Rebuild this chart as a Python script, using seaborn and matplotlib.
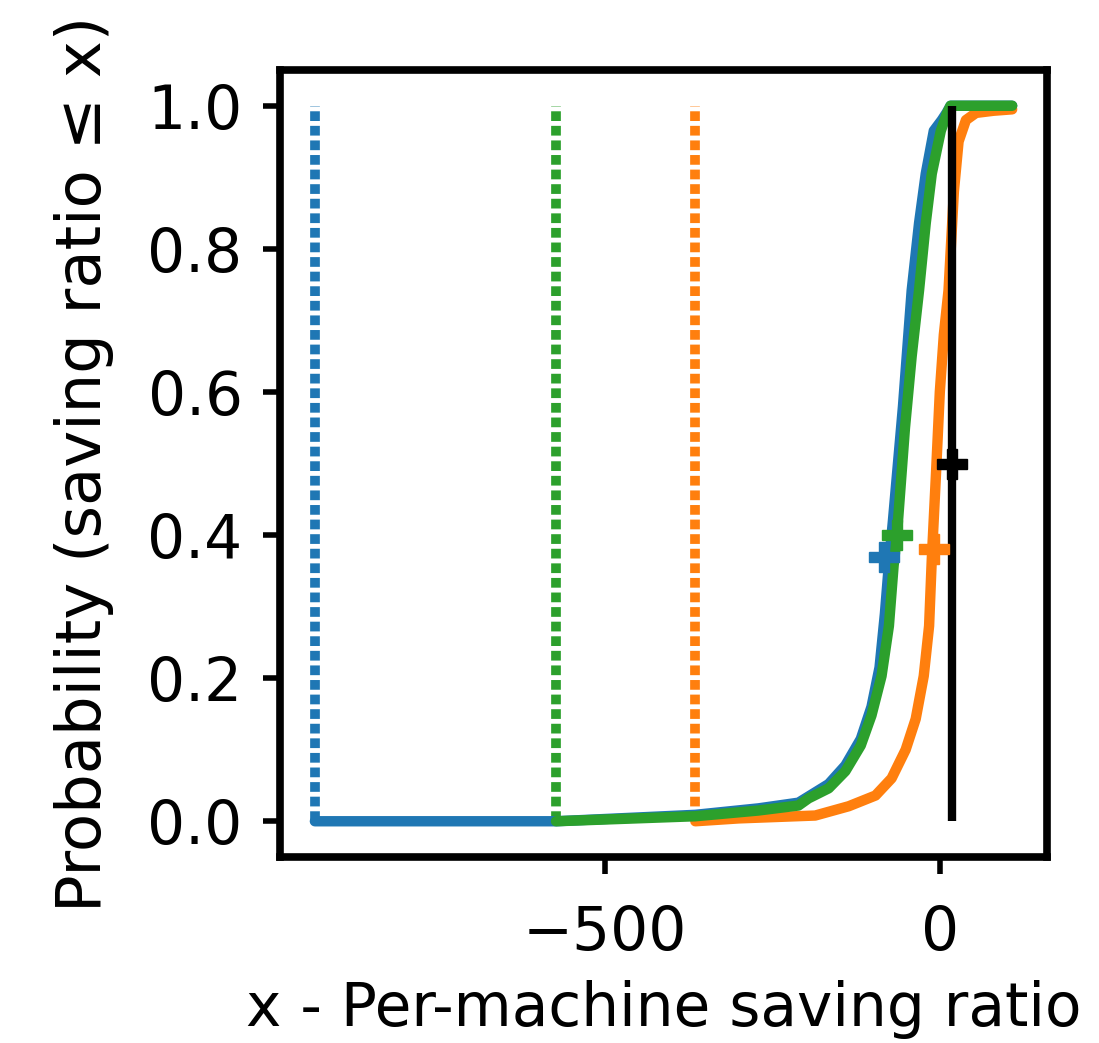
import numpy as np
import pandas as pd
import matplotlib
matplotlib.use("Agg")
import matplotlib.pyplot as plt
import seaborn as sns

# CDF curves (x = saving ratio, y = cumulative probability)
blue_x = [-933, -573, -365, -271, -211, -166, -141, -118, -102, -90, -82, -76, -70, -55, -42, -31, -21, -9, 3, 10, 16, 108]
blue_y = [0.0, 0.0, 0.009, 0.018, 0.026, 0.052, 0.078, 0.115, 0.16, 0.215, 0.29, 0.36, 0.42, 0.58, 0.742, 0.836, 0.905, 0.965, 0.98, 0.99, 1.0, 1.0]

green_x = [-573, -365, -271, -211, -196, -166, -141, -118, -102, -87, -76, -69, -64, -52, -42, -31, -21, -12, 1.5, 10.5, 16, 108]
green_y = [0.0, 0.007, 0.015, 0.022, 0.032, 0.046, 0.07, 0.106, 0.148, 0.203, 0.273, 0.357, 0.40, 0.55, 0.65, 0.742, 0.836, 0.905, 0.965, 0.989, 1.0, 1.0]

orange_x = [-365, -300, -186, -136, -96, -72, -51, -36, -24, -16, -12, -6, 0, 6, 13, 21, 28, 39, 54, 80, 108]
orange_y = [0.0, 0.004, 0.008, 0.021, 0.036, 0.06, 0.10, 0.143, 0.203, 0.273, 0.366, 0.48, 0.6, 0.68, 0.742, 0.88, 0.95, 0.98, 0.99, 0.993, 0.995]

series_names = ["blue", "orange", "green"]
series_colors = ["#1f77b4", "#ff7f0e", "#2ca02c"]

# per-series minimum (dotted lines) and marked points
min_x = [-933, -365, -573]
mark_x = [-84, -9, -64]
mark_y = [0.37, 0.38, 0.40]

# reference (black) line
ref_x = 18
ref_mark_y = 0.5

df = pd.concat([
    pd.DataFrame({"x": blue_x, "y": blue_y, "series": "blue"}),
    pd.DataFrame({"x": orange_x, "y": orange_y, "series": "orange"}),
    pd.DataFrame({"x": green_x, "y": green_y, "series": "green"}),
])

sns.set_style("white")
plt.rcParams["font.family"] = ["DejaVu Sans"]
plt.rcParams["font.size"] = 43
for key in ["text.color", "axes.labelcolor", "xtick.color", "ytick.color", "axes.edgecolor"]:
    plt.rcParams[key] = "black"

fig = plt.figure(figsize=(10.99, 10.43), dpi=100)
ax = fig.add_axes([0.2548, 0.1783, 0.6979, 0.7546])

palette = dict(zip(series_names, series_colors))

for name, mx, color in zip(series_names, min_x, series_colors):
    ax.vlines(mx, 0, 1, colors=color, linestyles=(0, (1.0, 0.5)), linewidth=7)

sns.lineplot(data=df, x="x", y="y", hue="series", palette=palette,
             hue_order=["blue", "orange", "green"], sort=False, estimator=None,
             linewidth=7.5, legend=False, ax=ax)

ax.vlines(ref_x, 0, 1, colors="black", linewidth=6)

for name, mx, my, color in zip(series_names, mark_x, mark_y, series_colors):
    ax.plot(mx, my, marker="P", markersize=21, color=color, linestyle="none")
ax.plot(ref_x, ref_mark_y, marker="P", markersize=21, color="black", linestyle="none")

ax.set_xticks([-500, 0])
ax.set_yticks([0.0, 0.2, 0.4, 0.6, 0.8, 1.0])
ax.set_yticklabels(["0.0", "0.2", "0.4", "0.6", "0.8", "1.0"])
ax.tick_params(axis="both", which="major", length=12, width=4, labelsize=43,
               left=True, bottom=True, color="black")
ax.tick_params(axis="y", pad=15)
ax.tick_params(axis="x", pad=22)
for sp in ax.spines.values():
    sp.set_linewidth(5.5)
    sp.set_color("black")

ax.set_xlabel("x - Per-machine saving ratio", fontsize=43, labelpad=12)
ax.set_ylabel("Probability (saving ratio \u2264 x)", fontsize=45, labelpad=24)

fig.savefig("out.png", dpi=100, facecolor="white")
